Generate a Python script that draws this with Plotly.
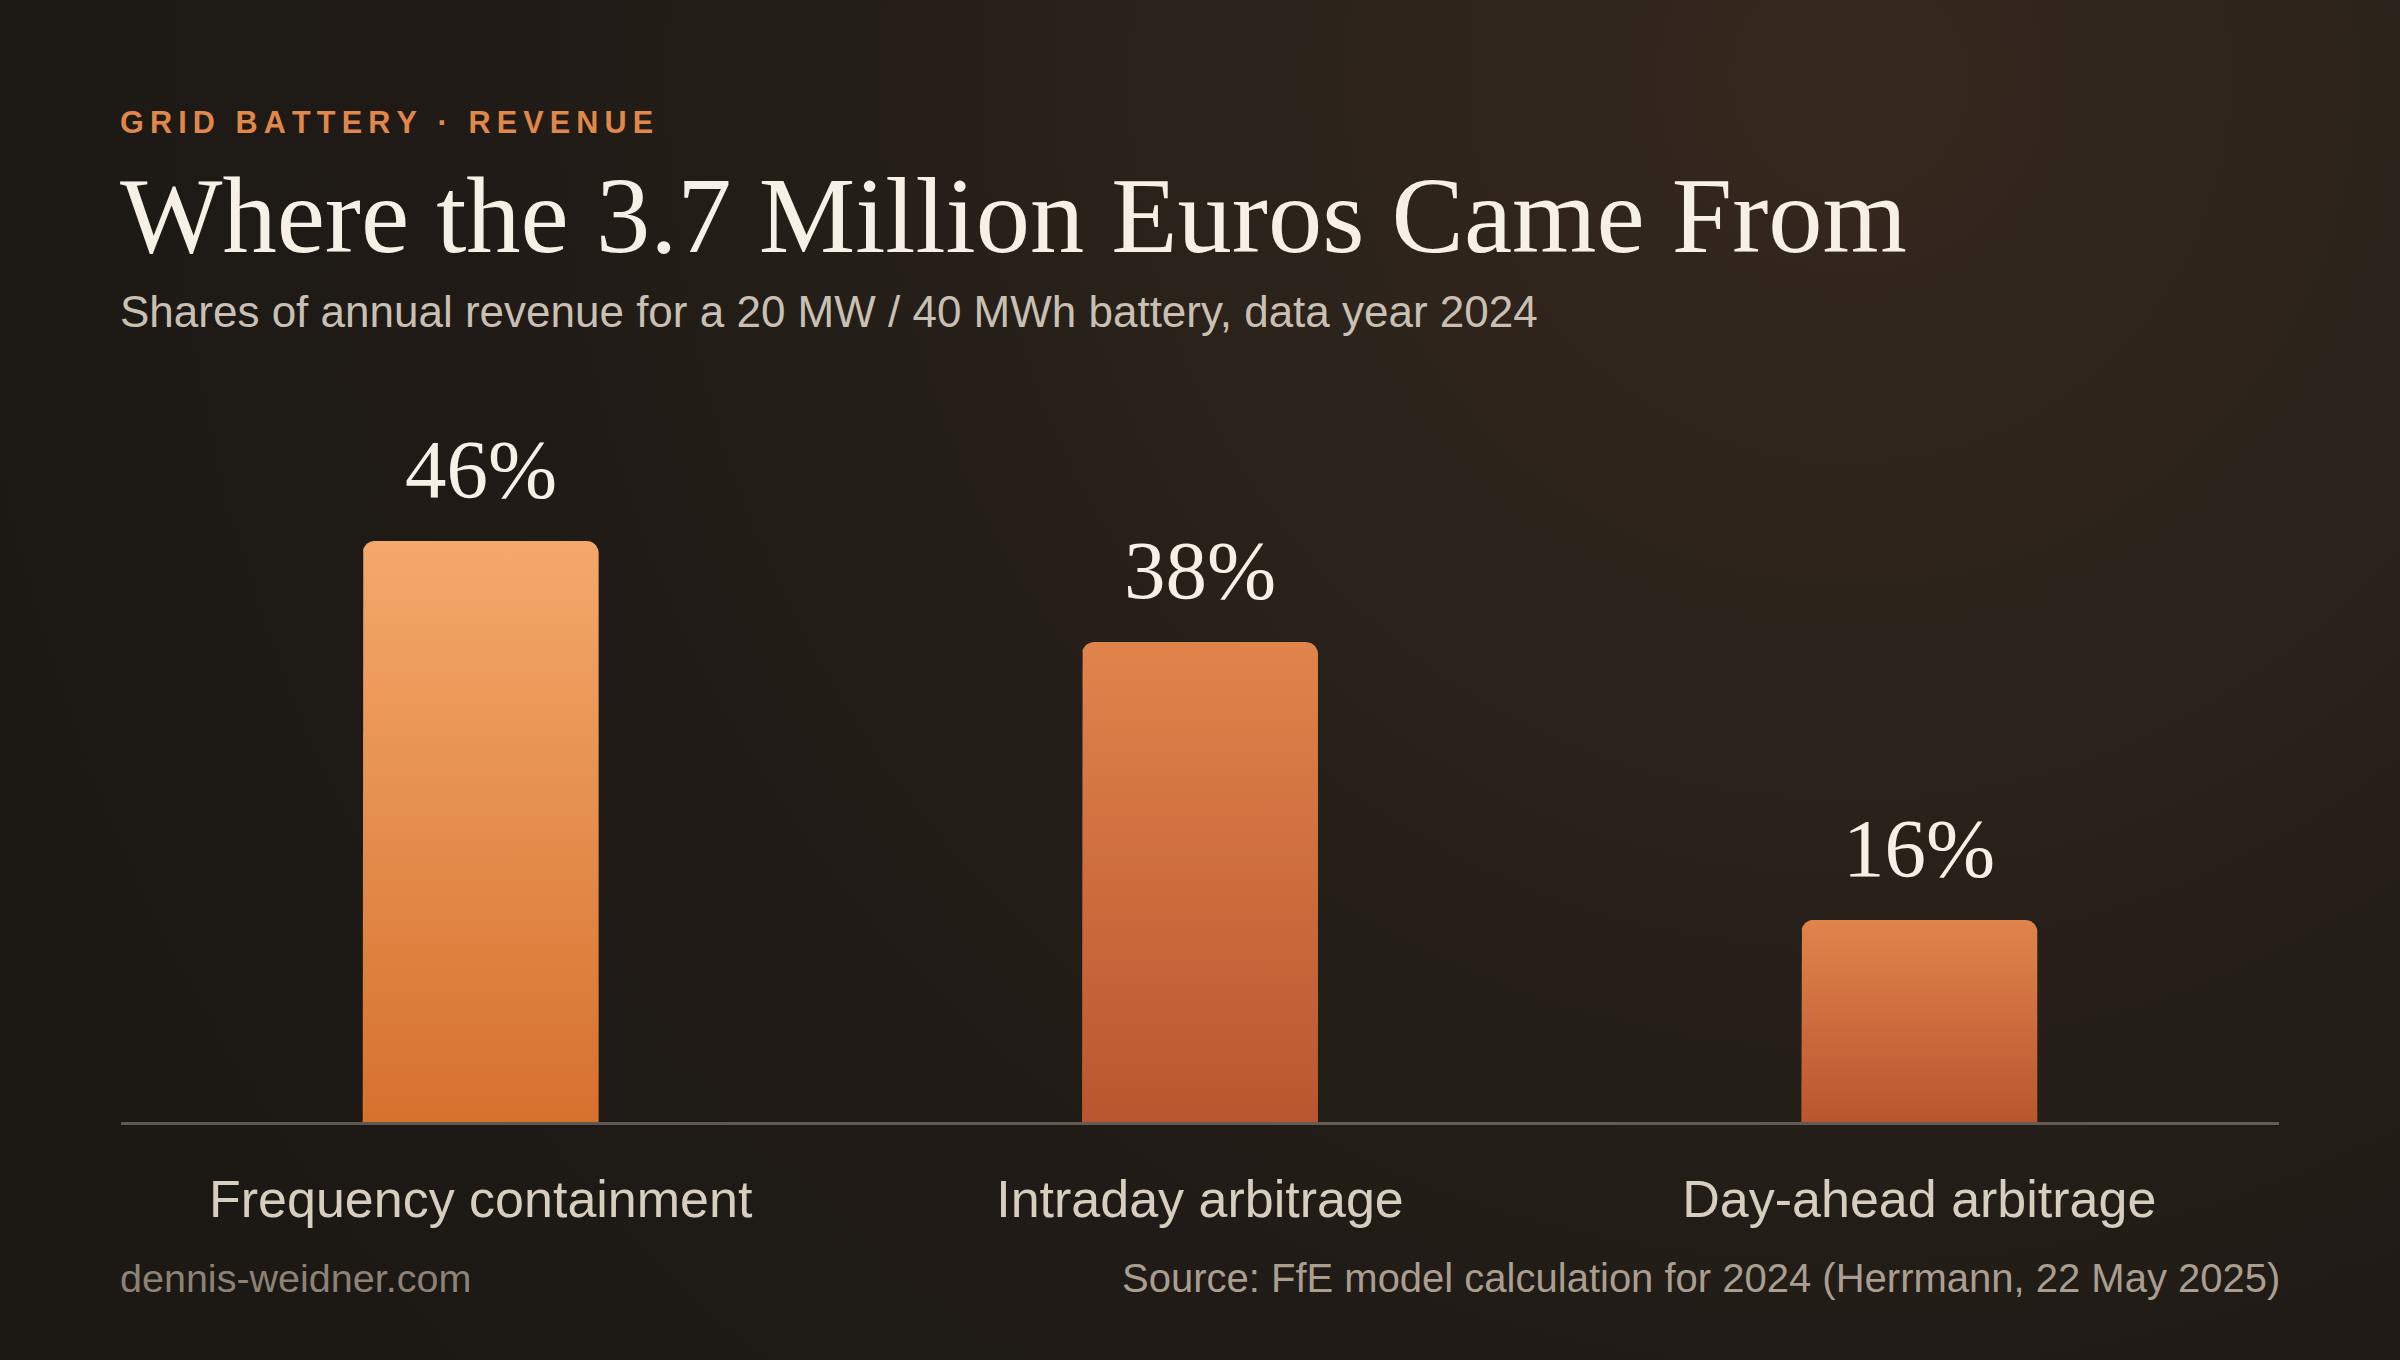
import base64
import math
import plotly.graph_objects as go

# ---------------- data ----------------
categories = ["Frequency containment", "Intraday arbitrage", "Day-ahead arbitrage"]
shares = [46, 38, 16]
value_labels = ["46%", "38%", "16%"]

eyebrow = "GRID BATTERY · REVENUE"
title = "Where the 3.7 Million Euros Came From"
subtitle = "Shares of annual revenue for a 20 MW / 40 MWh battery, data year 2024"
footer_left = "dennis-weidner.com"
footer_right = "Source: FfE model calculation for 2024 (Herrmann, 22 May 2025)"

# ---------------- style ----------------
W, H = 2400, 1360
X0_PX, X1_PX = 121, 2279          # plot area horizontal extent
BASE_PX = 1122                     # baseline y (px from top)
Y_MAX = 50
PX_PER_PCT = 12.63
TOP_PX = BASE_PX - Y_MAX * PX_PER_PCT

bar_top_colors = ["#F3A96A", "#E0844B", "#E0844B"]
bar_bot_colors = ["#D6712E", "#B9562F", "#B9562F"]
BAR_W = 0.328
RADIUS_PX = 12

SANS = "Liberation Sans, Arial, Helvetica, sans-serif"
SERIF = "Liberation Serif, Times New Roman, serif"

px_per_x = (X1_PX - X0_PX) / 3.0
rx = RADIUS_PX / px_per_x
ry = RADIUS_PX / PX_PER_PCT

fig = go.Figure()

for i, v in enumerate(shares):
    xl, xr = i - BAR_W / 2, i + BAR_W / 2
    xs, ys = [xl], [0]
    xs.append(xl); ys.append(v - ry)
    for k in range(0, 11):
        a = math.pi - k * (math.pi / 2) / 10
        xs.append(xl + rx + rx * math.cos(a)); ys.append(v - ry + ry * math.sin(a))
    for k in range(0, 11):
        a = math.pi / 2 - k * (math.pi / 2) / 10
        xs.append(xr - rx + rx * math.cos(a)); ys.append(v - ry + ry * math.sin(a))
    xs.append(xr); ys.append(0)
    xs.append(xl); ys.append(0)
    fig.add_trace(go.Scatter(
        x=xs, y=ys, mode="lines", fill="toself",
        line=dict(width=0, color=bar_bot_colors[i]),
        fillgradient=dict(type="vertical", start=0, stop=v,
                          colorscale=[[0, bar_bot_colors[i]], [1, bar_top_colors[i]]]),
        hoverinfo="skip", showlegend=False,
    ))

# value labels above bars
for i, (v, lab) in enumerate(zip(shares, value_labels)):
    fig.add_annotation(x=i, y=v, xref="x", yref="y", text=lab, showarrow=False,
                       yanchor="middle", yshift=72,
                       font=dict(family=SERIF, size=83, color="#F6F0E7"))

def py(px):
    return 1 - px / H

spaced_eyebrow = "\u2009".join(list(eyebrow))
LX = X0_PX - 3

texts = [
    (spaced_eyebrow, 122, dict(family=SANS, size=30.6, color="#E0874A", weight="bold"), "left", LX),
    (title, 215, dict(family=SERIF, size=108.5, color="#F6F0E7"), "left", LX),
    (subtitle, 312, dict(family=SANS, size=44, color="#C9C0B3"), "left", LX),
    (footer_left, 1278, dict(family=SANS, size=39.5, color="#8C8275"), "left", LX),
    (footer_right, 1278, dict(family=SANS, size=40, color="#A99E8F"), "right", X1_PX + 3),
]
for txt, ypx, fnt, anc, xpx in texts:
    fig.add_annotation(x=xpx / W, y=py(ypx), xref="paper", yref="paper", text=txt,
                       showarrow=False, xanchor=anc, yanchor="middle", font=fnt)

svg = f"""<svg xmlns='http://www.w3.org/2000/svg' width='{W}' height='{H}' viewBox='0 0 {W} {H}'>
<defs><radialGradient id='g' gradientUnits='userSpaceOnUse' cx='1850' cy='80' r='1900'>
<stop offset='0' stop-color='#35281F'/>
<stop offset='0.35' stop-color='#2A221B'/>
<stop offset='0.7' stop-color='#201B16'/>
<stop offset='1' stop-color='#1C1814'/>
</radialGradient></defs>
<rect width='{W}' height='{H}' fill='url(#g)'/></svg>"""
uri = "data:image/svg+xml;base64," + base64.b64encode(svg.encode()).decode()
fig.add_layout_image(dict(source=uri, xref="paper", yref="paper", x=0, y=1,
                          sizex=1, sizey=1, sizing="stretch", layer="below",
                          xanchor="left", yanchor="top"))

fig.update_layout(
    width=W, height=H,
    margin=dict(l=0, r=0, t=0, b=0),
    paper_bgcolor="#1E1A15", plot_bgcolor="rgba(0,0,0,0)",
    showlegend=False,
    xaxis=dict(domain=[X0_PX / W, X1_PX / W], range=[-0.5, 2.5],
               tickmode="array", tickvals=[0, 1, 2], ticktext=categories,
               tickfont=dict(family=SANS, size=52, color="#D7CEC0"),
               ticks="", ticklabelstandoff=30,
               showgrid=False, zeroline=False, fixedrange=True,
               showline=True, linecolor="rgba(205,195,180,0.38)", linewidth=3),
    yaxis=dict(domain=[py(BASE_PX), py(TOP_PX)], range=[0, Y_MAX],
               visible=False, showgrid=False, zeroline=False, fixedrange=True),
)

fig.write_html("out.html", config={"displayModeBar": False},
               post_script="document.body.style.margin='0';document.body.style.overflow='hidden';")
